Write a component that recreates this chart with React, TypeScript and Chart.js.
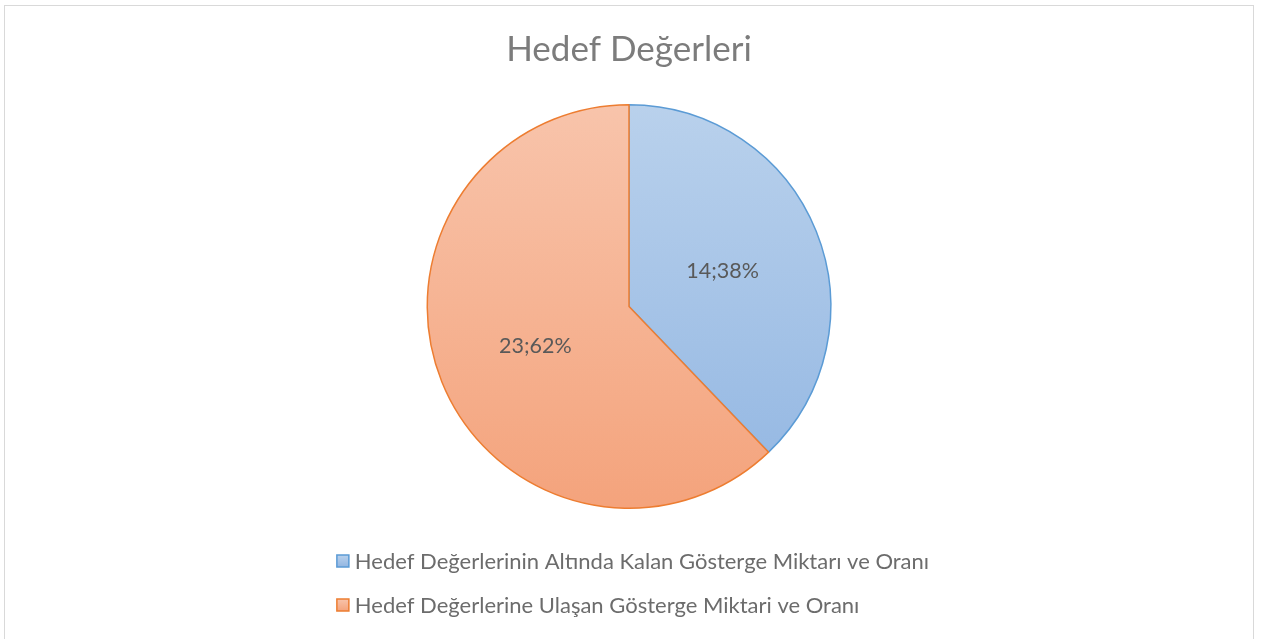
import React, { useEffect, useRef } from "react";
import { Chart, registerables } from "chart.js";

Chart.register(...registerables);

const titleText = "Hedef Değerleri";
const categories = [
  "Hedef Değerlerinin Altında Kalan Gösterge Miktarı ve Oranı",
  "Hedef Değerlerine Ulaşan Gösterge Miktari ve Oranı",
];
const values = [14, 23];
const borderColors = ["#5B9BD5", "#ED7D31"];
const gradientTops = ["#B9D1EC", "#F8C4AB"];
const gradientBottoms = ["#92B6E2", "#F4A37C"];

const FONT = "Lato, 'Open Sans', sans-serif";
const TITLE_COLOR = "#7C7C7C";
const LEGEND_COLOR = "#6C6C6C";
const LABEL_COLOR = "#595959";

function pieGradient(chart: any, i: number) {
  const area = chart.chartArea;
  if (!area) return gradientBottoms[i];
  const cy = (area.top + area.bottom) / 2;
  const r = Math.min(area.right - area.left, area.bottom - area.top) / 2;
  const g = chart.ctx.createLinearGradient(0, cy - r, 0, cy + r);
  g.addColorStop(0, gradientTops[i]);
  g.addColorStop(1, gradientBottoms[i]);
  return g;
}

const dataLabelPlugin = {
  id: "dataLabels",
  afterDatasetsDraw(chart: any) {
    const ctx = chart.ctx;
    const meta = chart.getDatasetMeta(0);
    const total = values.reduce((a, b) => a + b, 0);
    ctx.save();
    ctx.font = `21.5px ${FONT}`;
    ctx.fillStyle = LABEL_COLOR;
    ctx.textAlign = "center";
    ctx.textBaseline = "middle";
    meta.data.forEach((el: any, i: number) => {
      const p = el.tooltipPosition(false);
      const pct = Math.round((values[i] / total) * 100);
      ctx.fillText(`${values[i]};${pct}%`, p.x, p.y + 2);
    });
    ctx.restore();
  },
};

const legendPlugin = {
  id: "stackedLegend",
  afterDraw(chart: any) {
    const ctx = chart.ctx;
    const area = chart.chartArea;
    ctx.save();
    ctx.font = `22px ${FONT}`;
    const box = 12;
    const gap = 6;
    const widths = categories.map((c) => ctx.measureText(c).width);
    const blockW = box + gap + Math.max(...widths);
    const left = chart.width / 2 - blockW / 2 + 4;
    const rowOffsets = [52, 96];
    categories.forEach((c, i) => {
      const y = area.bottom + rowOffsets[i];
      const g = ctx.createLinearGradient(0, y - box / 2, 0, y + box / 2);
      g.addColorStop(0, gradientTops[i]);
      g.addColorStop(1, gradientBottoms[i]);
      ctx.fillStyle = g;
      ctx.fillRect(left, y - box / 2, box, box);
      ctx.strokeStyle = borderColors[i];
      ctx.lineWidth = 1.5;
      ctx.strokeRect(left, y - box / 2, box, box);
      ctx.fillStyle = LEGEND_COLOR;
      ctx.textAlign = "left";
      ctx.textBaseline = "middle";
      ctx.fillText(c, left + box + gap, y + 1);
    });
    ctx.restore();
  },
};

export default function App() {
  const canvasRef = useRef<HTMLCanvasElement | null>(null);

  useEffect(() => {
    if (!canvasRef.current) return;
    const chart = new Chart(canvasRef.current, {
      type: "pie",
      data: {
        labels: categories,
        datasets: [
          {
            data: values,
            backgroundColor: (c: any) => pieGradient(c.chart, c.dataIndex),
            borderColor: borderColors,
            borderWidth: 1.5,
          },
        ],
      },
      options: {
        animation: false,
        responsive: true,
        maintainAspectRatio: false,
        layout: { padding: { top: 0, bottom: 130, left: 0, right: 0 } },
        plugins: {
          legend: { display: false },
          tooltip: { enabled: false },
          title: {
            display: true,
            text: titleText,
            color: TITLE_COLOR,
            font: { family: FONT, size: 35, weight: "normal", lineHeight: 1.2 },
            padding: { top: 23, bottom: 33 },
          },
        },
      },
      plugins: [dataLabelPlugin, legendPlugin],
    });
    return () => chart.destroy();
  }, []);

  return (
    <div
      style={{
        position: "absolute",
        left: 4,
        top: 5,
        width: 1250,
        height: 634,
        boxSizing: "border-box",
        borderTop: "1px solid #D9D9D9",
        borderLeft: "1px solid #D9D9D9",
        borderRight: "1px solid #D9D9D9",
        background: "#fff",
      }}
    >
      <div style={{ position: "relative", width: 1248, height: 633 }}>
        <canvas ref={canvasRef} />
      </div>
    </div>
  );
}
